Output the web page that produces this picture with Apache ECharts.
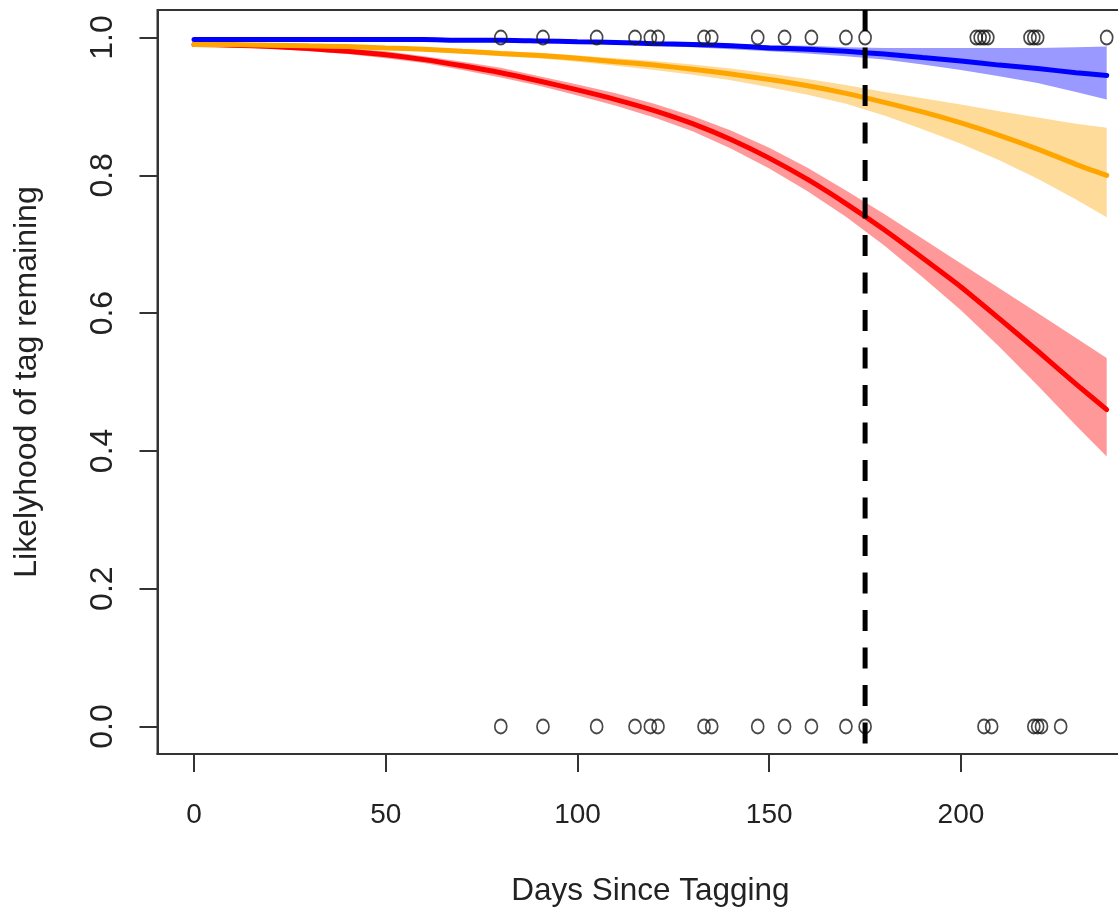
<!DOCTYPE html>
<html>
<head>
<meta charset="utf-8">
<script src="https://cdn.jsdelivr.net/npm/echarts@6/dist/echarts.min.js"></script>
<style>html,body{margin:0;padding:0;background:#fff;}#c{width:1118px;height:913px;}</style>
</head>
<body>
<div id="c"></div>
<script>
const days    = [0, 10, 20, 30, 40, 50, 60, 70, 80, 90, 100, 110, 120, 130, 140, 150, 160, 170, 180, 190, 200, 210, 220, 230, 238];
const redFit  = [0.990, 0.989, 0.987, 0.984, 0.980, 0.975, 0.968, 0.959, 0.949, 0.937, 0.924, 0.910, 0.894, 0.875, 0.852, 0.825, 0.794, 0.759, 0.721, 0.680, 0.638, 0.592, 0.545, 0.497, 0.460];
const redLow  = [0.987, 0.986, 0.984, 0.980, 0.976, 0.970, 0.963, 0.953, 0.942, 0.930, 0.916, 0.901, 0.884, 0.864, 0.839, 0.810, 0.777, 0.740, 0.698, 0.652, 0.604, 0.551, 0.495, 0.437, 0.392];
const redHigh = [0.993, 0.992, 0.990, 0.988, 0.984, 0.980, 0.973, 0.965, 0.956, 0.944, 0.932, 0.919, 0.904, 0.886, 0.865, 0.840, 0.811, 0.778, 0.744, 0.708, 0.672, 0.636, 0.600, 0.564, 0.535];
const orgFit  = [0.990, 0.990, 0.989, 0.988, 0.987, 0.985, 0.983, 0.980, 0.977, 0.974, 0.970, 0.965, 0.960, 0.954, 0.947, 0.939, 0.930, 0.919, 0.906, 0.892, 0.876, 0.858, 0.838, 0.816, 0.800];
const orgLow  = [0.988, 0.988, 0.987, 0.986, 0.985, 0.983, 0.980, 0.977, 0.973, 0.970, 0.965, 0.959, 0.953, 0.946, 0.938, 0.928, 0.917, 0.904, 0.887, 0.867, 0.846, 0.822, 0.795, 0.765, 0.739];
const orgHigh = [0.992, 0.992, 0.991, 0.990, 0.989, 0.987, 0.986, 0.983, 0.980, 0.978, 0.974, 0.970, 0.966, 0.961, 0.955, 0.948, 0.940, 0.931, 0.921, 0.912, 0.903, 0.893, 0.884, 0.875, 0.869];
const bluFit  = [0.997, 0.997, 0.997, 0.997, 0.997, 0.997, 0.997, 0.996, 0.996, 0.995, 0.994, 0.993, 0.991, 0.990, 0.988, 0.985, 0.983, 0.980, 0.976, 0.971, 0.966, 0.960, 0.955, 0.949, 0.945];
const bluLow  = [0.996, 0.996, 0.996, 0.996, 0.996, 0.996, 0.996, 0.995, 0.995, 0.993, 0.992, 0.990, 0.988, 0.986, 0.983, 0.980, 0.977, 0.973, 0.968, 0.961, 0.953, 0.944, 0.934, 0.921, 0.910];
const bluHigh = [0.998, 0.998, 0.998, 0.998, 0.998, 0.998, 0.998, 0.997, 0.997, 0.996, 0.996, 0.995, 0.994, 0.993, 0.991, 0.989, 0.988, 0.986, 0.985, 0.985, 0.985, 0.985, 0.985, 0.986, 0.987];
const retainedDays = [80, 91, 105, 115, 119, 121, 133, 135, 147, 154, 161, 170, 175, 204, 205, 206, 207, 218, 219, 220, 238];
const lostDays     = [80, 91, 105, 115, 119, 121, 133, 135, 147, 154, 161, 170, 175, 206, 208, 219, 220, 221, 226];
const cutoffDay = 175;
const xTicks = [0, 50, 100, 150, 200];
const yTicks = [0, 0.2, 0.4, 0.6, 0.8, 1.0];

const chart = echarts.init(document.getElementById('c'), null, {renderer: 'canvas'});
const pair = (xs, ys) => xs.map((x, i) => [x, ys[i]]);

function band(lo, hi, color) {
  return {
    type: 'custom', z: 1, silent: true,
    data: days.map((d, i) => [d, lo[i], hi[i]]),
    encode: {x: 0, y: [1, 2]},
    renderItem: (params, api) => {
      if (params.dataIndex !== 0) return null;
      const top = days.map((d, i) => api.coord([d, hi[i]]));
      const bot = days.map((d, i) => api.coord([d, lo[i]])).reverse();
      return {type: 'polygon', shape: {points: top.concat(bot)}, style: {fill: color}};
    }
  };
}
function fit(data, color) {
  return {type: 'line', data: pair(days, data), smooth: 0.2, symbol: 'none',
          lineStyle: {color: color, width: 5, cap: 'round'}, z: 3, silent: true};
}
const circleStyle = {color: 'rgba(0,0,0,0)', borderColor: '#1a1a1a', borderWidth: 1.8};
const font = "'Liberation Sans', Arial, sans-serif";

chart.setOption({
  animation: false,
  grid: {left: 157.5, top: 10, width: 985.7, height: 744, show: true, borderColor: '#333', borderWidth: 2,
         outerBoundsMode: 'none', containLabel: false},
  xAxis: {
    type: 'value', min: -9.52, max: 247.52,
    name: 'Days Since Tagging', nameLocation: 'middle', nameGap: 121,
    nameTextStyle: {fontFamily: font, fontSize: 31.5, color: '#222'},
    axisLine: {show: true, onZero: false, lineStyle: {color: '#333', width: 2}},
    axisTick: {show: true, inside: false, length: 18, lineStyle: {color: '#333', width: 2}, customValues: xTicks},
    axisLabel: {show: true, margin: 47, fontFamily: font, fontSize: 28, color: '#222', customValues: xTicks},
    splitLine: {show: false}
  },
  yAxis: {
    type: 'value', min: -0.04, max: 1.04,
    name: 'Likelyhood of tag remaining', nameLocation: 'middle', nameGap: 114, nameRotate: 90,
    nameTextStyle: {fontFamily: font, fontSize: 32, color: '#222'},
    axisLine: {show: true, onZero: false, lineStyle: {color: '#333', width: 2}},
    axisTick: {show: true, inside: false, length: 18, lineStyle: {color: '#333', width: 2}, customValues: yTicks},
    axisLabel: {show: true, rotate: 90, margin: 38, fontFamily: font, fontSize: 32, color: '#222',
                customValues: yTicks, formatter: v => v.toFixed(1)},
    splitLine: {show: false}
  },
  series: [
    band(redLow, redHigh, '#FF9999'),
    band(orgLow, orgHigh, '#FFDB99'),
    band(bluLow, bluHigh, '#9999FF'),
    fit(redFit, '#FF0000'),
    fit(orgFit, '#FFA500'),
    fit(bluFit, '#0000FF'),
    {type: 'scatter', data: retainedDays.map(d => [d, 1]), symbol: 'circle', symbolSize: [12, 14],
     itemStyle: circleStyle, z: 4, silent: true},
    {type: 'scatter', data: lostDays.map(d => [d, 0]), symbol: 'circle', symbolSize: [12, 14],
     itemStyle: circleStyle, z: 4, silent: true},
    {type: 'line', data: [[cutoffDay, 1.04], [cutoffDay, -0.04]], symbol: 'none',
     lineStyle: {color: '#000', width: 5, type: [21, 16.5]}, z: 5, silent: true}
  ]
});
</script>
</body>
</html>
